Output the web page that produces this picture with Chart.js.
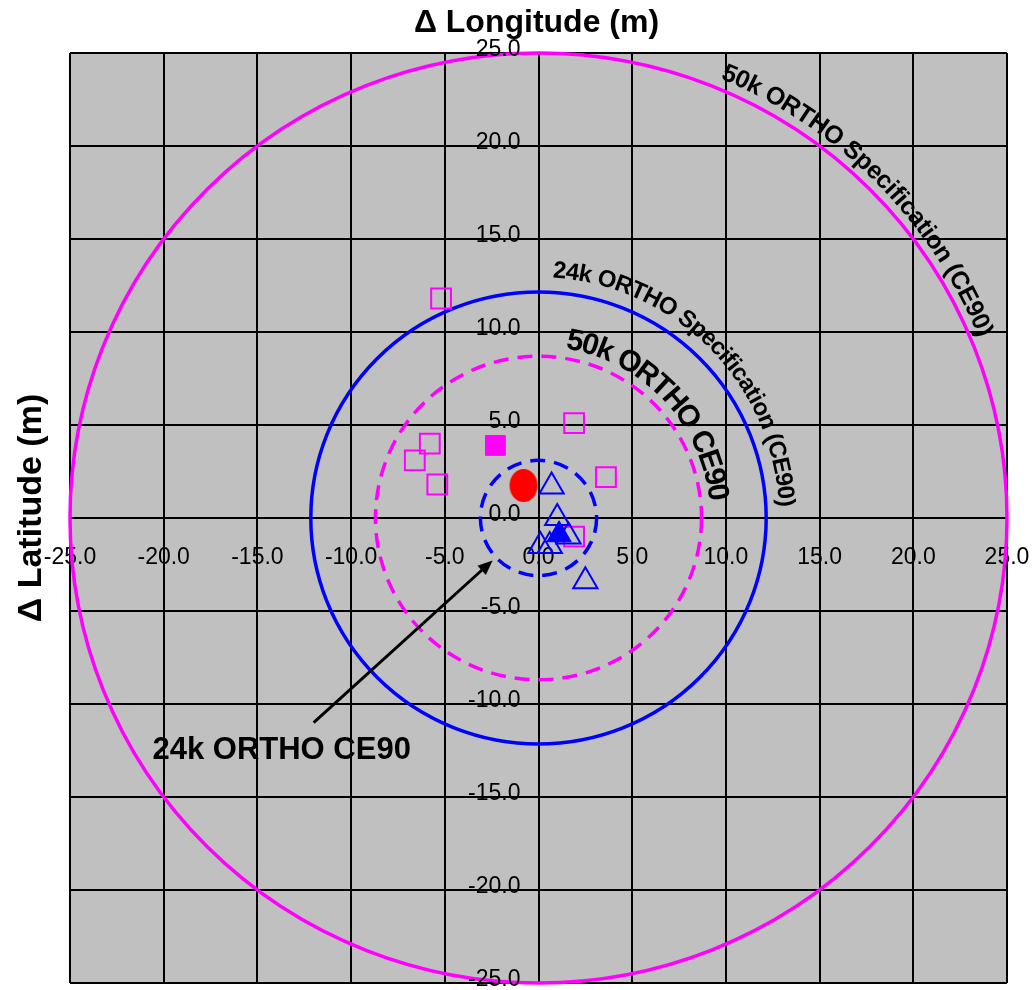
<!DOCTYPE html>
<html>
<head>
<meta charset="utf-8">
<script src="https://cdn.jsdelivr.net/npm/chart.js@4.4.1/dist/chart.umd.min.js"></script>
<style>
  body { margin: 0; background: #fff; }
  #wrap { width: 1033px; height: 990px; }
</style>
</head>
<body>
<div id="wrap"><canvas id="ce90Chart" width="1033" height="990"></canvas></div>
<script>
// 축 범위와 눈금
const axisMin = -25;
const axisMax = 25;
const tickStep = 5;

// 측정점 (x = ΔLongitude, y = ΔLatitude, m)
const openSquares = [[-5.2, 11.8], [1.9, 5.1], [-5.8, 4.0], [-6.6, 3.1], [-5.4, 1.8], [3.6, 2.2], [1.9, -1.0]];
const filledSquares = [[-2.3, 3.9]];
const redPoints = [[-0.8, 1.75]];
const openTriangles = [[0.7, 1.7], [1.0, 0.0], [1.6, -1.0], [0.1, -1.5], [0.6, -1.5], [2.5, -3.4]];
const filledTriangles = [[1.1, -0.9]];

// CE90 원 (반지름, m)
const circleRadii = [25, 12.15, 8.7, 3.1];
const circleColors = ['#ff00ff', '#0000ff', '#ff00ff', '#0000ff'];
const circleDashed = [false, false, true, true];

// 곡선 라벨
const arcLabels = ['50k ORTHO Specification (CE90)', '24k ORTHO Specification (CE90)', '50k ORTHO CE90'];
const arcRadii = [25.75, 13.2, 9.6];
const arcStartDeg = [23.3, 4.9, 11.7];
const arcEndDeg = [67.3, 86.5, 81.8];
const arcFonts = ['bold 25px "Liberation Sans", Arial, sans-serif', 'bold 24px "Liberation Sans", Arial, sans-serif', 'bold 30px "Liberation Sans", Arial, sans-serif'];

// 화살표 라벨
const noteText = '24k ORTHO CE90';
const notePos = [-20.6, -12.95];
const arrowFrom = [-12.0, -11.0];
const arrowTo = [-2.45, -2.28];

const FONT = '"Liberation Sans", Arial, sans-serif';
const toXY = arr => arr.map(p => ({ x: p[0], y: p[1] }));
const tickFormat = v => Number(v).toFixed(1);

// 빨간 타원 마커
function makeEllipseMarker() {
    const c = document.createElement('canvas');
    c.width = 30;
    c.height = 35;
    const g = c.getContext('2d');
    g.fillStyle = '#ff0000';
    g.beginPath();
    g.ellipse(15, 17.5, 14, 16.5, 0, 0, Math.PI * 2);
    g.fill();
    return c;
}

function drawArcText(ctx, text, cx, cy, r, a0, a1, font) {
    ctx.save();
    ctx.font = font;
    ctx.fillStyle = '#000';
    ctx.textAlign = 'center';
    ctx.textBaseline = 'middle';
    const chars = text.split('');
    const widths = chars.map(ch => ctx.measureText(ch).width);
    const centers = [];
    let acc = 0;
    widths.forEach(w => { centers.push(acc + w / 2); acc += w; });
    const s0 = centers[0];
    const s1 = centers[centers.length - 1];
    chars.forEach((ch, i) => {
        const t = (centers[i] - s0) / (s1 - s0);
        const th = (a0 + (a1 - a0) * t) * Math.PI / 180;
        ctx.save();
        ctx.translate(cx + r * Math.sin(th), cy - r * Math.cos(th));
        ctx.rotate(th);
        ctx.fillText(ch, 0, 0);
        ctx.restore();
    });
    ctx.restore();
}

const plotBackground = {
    id: 'plotBackground',
    beforeDraw(chart) {
        const { ctx, chartArea: a } = chart;
        ctx.save();
        ctx.fillStyle = '#c0c0c0';
        ctx.fillRect(a.left, a.top, a.right - a.left, a.bottom - a.top);
        ctx.restore();
    }
};

const ceCircles = {
    id: 'ceCircles',
    beforeDatasetsDraw(chart) {
        const { ctx } = chart;
        const xs = chart.scales.x;
        const ys = chart.scales.y;
        const cx = xs.getPixelForValue(0);
        const cy = ys.getPixelForValue(0);
        ctx.save();
        circleRadii.forEach((r, i) => {
            const rx = xs.getPixelForValue(r) - cx;
            const ry = cy - ys.getPixelForValue(r);
            ctx.beginPath();
            ctx.strokeStyle = circleColors[i];
            ctx.lineWidth = 3.5;
            ctx.setLineDash(circleDashed[i] ? [15, 9] : []);
            ctx.ellipse(cx, cy, rx, ry, 0, 0, Math.PI * 2);
            ctx.stroke();
        });
        ctx.restore();
    }
};

const annotations = {
    id: 'annotations',
    afterDatasetsDraw(chart) {
        const { ctx, chartArea: a } = chart;
        const xs = chart.scales.x;
        const ys = chart.scales.y;
        const cx = xs.getPixelForValue(0);
        const cy = ys.getPixelForValue(0);

        // y축 눈금 라벨 (세로축 왼쪽, 마이너스가 격자선에 묻히지 않게 조금 위로)
        ctx.save();
        ctx.font = '23px ' + FONT;
        ctx.fillStyle = '#000';
        ctx.textAlign = 'right';
        ctx.textBaseline = 'middle';
        ys.ticks.forEach(t => {
            ctx.fillText(tickFormat(t.value), cx - 18, ys.getPixelForValue(t.value) - 3);
        });
        ctx.restore();

        arcLabels.forEach((txt, i) => {
            const r = xs.getPixelForValue(arcRadii[i]) - cx;
            drawArcText(ctx, txt, cx, cy, r, arcStartDeg[i], arcEndDeg[i], arcFonts[i]);
        });

        // 화살표
        const x1 = xs.getPixelForValue(arrowFrom[0]);
        const y1 = ys.getPixelForValue(arrowFrom[1]);
        const x2 = xs.getPixelForValue(arrowTo[0]);
        const y2 = ys.getPixelForValue(arrowTo[1]);
        const ang = Math.atan2(y2 - y1, x2 - x1);
        const head = 16;
        ctx.save();
        ctx.strokeStyle = '#000';
        ctx.fillStyle = '#000';
        ctx.lineWidth = 3;
        ctx.beginPath();
        ctx.moveTo(x1, y1);
        ctx.lineTo(x2 - Math.cos(ang) * head * 0.8, y2 - Math.sin(ang) * head * 0.8);
        ctx.stroke();
        ctx.beginPath();
        ctx.moveTo(x2, y2);
        ctx.lineTo(x2 - head * Math.cos(ang - 0.4), y2 - head * Math.sin(ang - 0.4));
        ctx.lineTo(x2 - head * Math.cos(ang + 0.4), y2 - head * Math.sin(ang + 0.4));
        ctx.closePath();
        ctx.fill();

        ctx.font = 'bold 31px ' + FONT;
        ctx.textAlign = 'left';
        ctx.textBaseline = 'alphabetic';
        ctx.fillText(noteText, xs.getPixelForValue(notePos[0]), ys.getPixelForValue(notePos[1]));

        // 축 제목
        ctx.font = 'bold 32px ' + FONT;
        ctx.textAlign = 'center';
        ctx.fillText('\u0394 Longitude (m)', (a.left + a.right) / 2 - 2, 32);
        ctx.font = 'bold 34px ' + FONT;
        ctx.translate(41, (a.top + a.bottom) / 2 - 10);
        ctx.rotate(-Math.PI / 2);
        ctx.fillText('\u0394 Latitude (m)', 0, 0);
        ctx.restore();
    }
};

// 축 라벨이 차트 영역을 줄이지 않도록
const noScalePadding = scale => {
    scale.paddingLeft = 0;
    scale.paddingRight = 0;
    scale.paddingTop = 0;
    scale.paddingBottom = 0;
};

new Chart(document.getElementById('ce90Chart'), {
    type: 'scatter',
    data: {
        datasets: [
            {
                data: toXY(filledTriangles),
                pointStyle: 'triangle',
                pointRadius: 14,
                backgroundColor: '#0000ff',
                borderColor: '#0000ff',
                borderWidth: 1
            },
            {
                data: toXY(redPoints),
                pointStyle: makeEllipseMarker(),
                pointRadius: 16
            },
            {
                data: toXY(filledSquares),
                pointStyle: 'rect',
                pointRadius: 14,
                backgroundColor: '#ff00ff',
                borderColor: '#ff00ff',
                borderWidth: 1
            },
            {
                data: toXY(openTriangles),
                pointStyle: 'triangle',
                pointRadius: 14,
                backgroundColor: 'rgba(0,0,0,0)',
                borderColor: '#0000ff',
                borderWidth: 2
            },
            {
                data: toXY(openSquares),
                pointStyle: 'rect',
                pointRadius: 14,
                backgroundColor: 'rgba(0,0,0,0)',
                borderColor: '#ff00ff',
                borderWidth: 2
            }
        ]
    },
    options: {
        responsive: false,
        animation: false,
        layout: {
            autoPadding: false,
            padding: { left: 70, top: 53, right: 26, bottom: 7 }
        },
        plugins: {
            legend: { display: false },
            tooltip: { enabled: false }
        },
        scales: {
            x: {
                type: 'linear',
                position: { y: 0 },
                min: axisMin,
                max: axisMax,
                afterFit: noScalePadding,
                ticks: {
                    stepSize: tickStep,
                    callback: tickFormat,
                    color: '#000',
                    font: { family: FONT, size: 23 },
                    padding: 21,
                    maxRotation: 0,
                    autoSkip: false
                },
                grid: { color: '#000', lineWidth: 2, tickLength: 5 },
                border: { color: '#000', width: 2 }
            },
            y: {
                type: 'linear',
                position: { x: 0 },
                min: axisMin,
                max: axisMax,
                afterFit: noScalePadding,
                ticks: {
                    stepSize: tickStep,
                    display: false,
                    autoSkip: false
                },
                grid: { color: '#000', lineWidth: 2, tickLength: 5 },
                border: { color: '#000', width: 2 }
            }
        }
    },
    plugins: [plotBackground, ceCircles, annotations]
});
</script>
</body>
</html>
